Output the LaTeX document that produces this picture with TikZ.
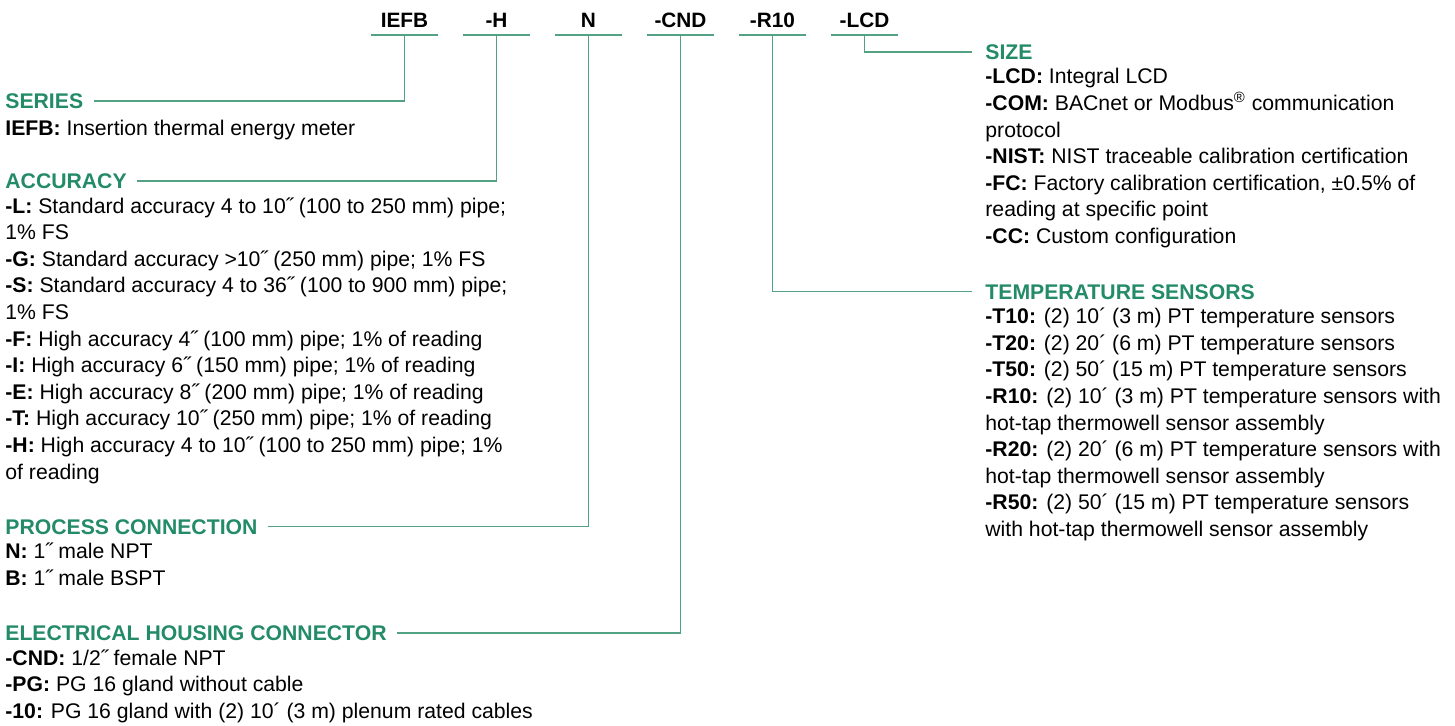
\documentclass[tikz,border=0pt]{standalone}
\usepackage{fontspec}
\setmainfont{Liberation Sans}
\usepackage{tikz}
\usetikzlibrary{positioning}
\definecolor{hdgreen}{RGB}{35,139,104}
\definecolor{rulegreen}{RGB}{82,162,131}
\tikzstyle{every node}=[inner sep=0pt, font=\fontsize{10.6pt}{13.3pt}\selectfont]
\tikzstyle{code}=[font=\fontsize{10.4pt}{12pt}\selectfont\bfseries, minimum width=33.5pt, inner ysep=3.4pt, text height=7.6pt, text depth=0pt]
\tikzstyle{heading}=[font=\fontsize{10.6pt}{13.3pt}\selectfont\bfseries, text=hdgreen, anchor=base west, text height=7.6pt, text depth=0pt]
\tikzstyle{body}=[align=left, execute at begin node={\rule{0pt}{9pt}}]
\tikzstyle{lead}=[draw=rulegreen, line width=0.8pt]

\begin{document}
\begin{tikzpicture}[x=0.5pt, y=-0.5pt]
        \useasboundingbox (0,0) rectangle (1455,725);
        \node[code] (codeIEFB) at (404.5,20) {IEFB};
        \node[code, right=12.1pt of codeIEFB] (codeH) {-H};
        \node[code, right=12.1pt of codeH] (codeN) {N};
        \node[code, right=12.1pt of codeN] (codeCND) {-CND};
        \node[code, right=12.1pt of codeCND] (codeR10) {-R10};
        \node[code, right=12.1pt of codeR10] (codeLCD) {-LCD};
        \foreach \c in {codeIEFB,codeH,codeN,codeCND,codeR10,codeLCD}
            \draw[lead] (\c.south west) -- (\c.south east);

        \node[heading] (series) at (5,108.6) {SERIES};
        \node[body, below=4.3pt of series.base west, anchor=north west] (seriesbody)
            {\textbf{IEFB:} Insertion thermal energy meter};
        \node[heading] (accuracy) at (5,188.4) {ACCURACY};
        \node[body, below=4.3pt of accuracy.base west, anchor=north west] (accuracybody)
            {\textbf{-L:} Standard accuracy 4 to 10˝ (100 to 250 mm) pipe;\\
             1\% FS\\
             \textbf{-G:} Standard accuracy >10˝ (250 mm) pipe; 1\% FS\\
             \textbf{-S:} Standard accuracy 4 to 36˝ (100 to 900 mm) pipe;\\
             1\% FS\\
             \textbf{-F:} High accuracy 4˝ (100 mm) pipe; 1\% of reading\\
             \textbf{-I:} High accuracy 6˝ (150 mm) pipe; 1\% of reading\\
             \textbf{-E:} High accuracy 8˝ (200 mm) pipe; 1\% of reading\\
             \textbf{-T:} High accuracy 10˝ (250 mm) pipe; 1\% of reading\\
             \textbf{-H:} High accuracy 4 to 10˝ (100 to 250 mm) pipe; 1\%\\
             of reading};
        \node[heading] (process) at (5,534.2) {PROCESS CONNECTION};
        \node[body, below=4.3pt of process.base west, anchor=north west] (processbody)
            {\textbf{N:} 1˝ male NPT\\
             \textbf{B:} 1˝ male BSPT};
        \node[heading] (electrical) at (5,640.6) {ELECTRICAL HOUSING CONNECTOR};
        \node[body, below=4.3pt of electrical.base west, anchor=north west] (electricalbody)
            {\textbf{-CND:} 1/2˝ female NPT\\
             \textbf{-PG:} PG 16 gland without cable\\
             \textbf{-10:} PG 16 gland with (2) 10´ (3 m) plenum rated cables};

        \node[heading] (size) at (985,59.6) {SIZE};
        \node[body, below=4.3pt of size.base west, anchor=north west] (sizebody)
            {\textbf{-LCD:} Integral LCD\\
             \textbf{-COM:} BACnet or Modbus\textsuperscript{®} communication\\
             protocol\\
             \textbf{-NIST:} NIST traceable calibration certification\\
             \textbf{-FC:} Factory calibration certification, ±0.5\% of\\
             reading at specific point\\
             \textbf{-CC:} Custom configuration};
        \node[heading] (temps) at (985,299) {TEMPERATURE SENSORS};
        \node[body, below=4.3pt of temps.base west, anchor=north west] (tempsbody)
            {\textbf{-T10:} (2) 10´ (3 m) PT temperature sensors\\
             \textbf{-T20:} (2) 20´ (6 m) PT temperature sensors\\
             \textbf{-T50:} (2) 50´ (15 m) PT temperature sensors\\
             \textbf{-R10:} (2) 10´ (3 m) PT temperature sensors with\\
             hot-tap thermowell sensor assembly\\
             \textbf{-R20:} (2) 20´ (6 m) PT temperature sensors with\\
             hot-tap thermowell sensor assembly\\
             \textbf{-R50:} (2) 50´ (15 m) PT temperature sensors\\
             with hot-tap thermowell sensor assembly};

        \draw[lead] (codeIEFB.south) |- ([xshift=5pt]series.east);
        \draw[lead] (codeH.south) |- ([xshift=5pt]accuracy.east);
        \draw[lead] (codeN.south) |- ([xshift=5pt]process.east);
        \draw[lead] (codeCND.south) |- ([xshift=5pt]electrical.east);
        \draw[lead] (codeR10.south) |- ([xshift=-6.5pt]temps.west);
        \draw[lead] (codeLCD.south) |- ([xshift=-6.5pt]size.west);
\end{tikzpicture}
\end{document}
